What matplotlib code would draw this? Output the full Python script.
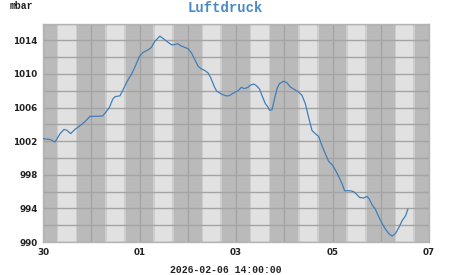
import matplotlib
matplotlib.use("Agg")
import matplotlib.pyplot as plt
import numpy as np

# hours since 2026-01-30 00:00
hours = [0.0, 3.5, 6.0, 8.5, 10.5, 11.8, 13.8, 15.9, 17.6, 19.3, 21.8, 23.4, 25.9, 29.7,
         31.4, 33.0, 34.7, 35.9, 38.3, 39.7, 41.7, 44.2, 45.8, 48.0, 49.8, 52.3, 53.9,
         55.6, 58.1, 59.8, 62.3, 63.9, 65.2, 66.9, 68.6, 70.6, 72.2, 73.9, 75.5, 77.2,
         78.8, 80.5, 82.2, 83.5, 85.2, 86.3, 88.8, 90.8, 92.5, 94.6, 97.3, 98.6, 100.2,
         101.9, 103.1, 104.7, 105.9, 107.6, 108.9, 110.6, 111.9, 112.7, 113.9, 115.2,
         116.4, 117.7, 119.7, 121.4, 123.0, 125.1, 127.1, 128.8, 130.5, 132.1, 133.8,
         135.5, 137.1, 138.4, 140.1, 142.1, 143.8, 145.4, 147.1, 148.8, 150.0, 152.9,
         154.5, 156.2, 157.5, 159.5, 161.2, 162.3, 163.7, 165.3, 167.0, 168.7, 170.3,
         172.3, 173.7, 175.3, 177.0, 178.6, 180.3, 181.5]
pressure = [1002.3, 1002.2, 1001.9, 1002.9, 1003.4, 1003.3, 1002.9, 1003.4, 1003.7, 1004.0,
            1004.55, 1004.95, 1004.95, 1005.0, 1005.5, 1006.0, 1007.0, 1007.3, 1007.4,
            1008.05, 1009.05, 1010.05, 1010.85, 1012.1, 1012.56, 1012.87, 1013.15, 1013.87,
            1014.5, 1014.2, 1013.75, 1013.47, 1013.47, 1013.6, 1013.35, 1013.15, 1013.0,
            1012.48, 1011.7, 1010.9, 1010.6, 1010.4, 1010.1, 1009.5, 1008.5, 1007.97,
            1007.6, 1007.4, 1007.4, 1007.7, 1008.05, 1008.4, 1008.25, 1008.4, 1008.65,
            1008.8, 1008.65, 1008.25, 1007.45, 1006.45, 1006.06, 1005.67, 1005.75, 1007.06,
            1008.26, 1008.86, 1009.13, 1008.93, 1008.45, 1008.14, 1007.85, 1007.45, 1006.45,
            1004.86, 1003.27, 1002.88, 1002.56, 1001.69, 1000.68, 999.6, 999.2, 998.58,
            997.8, 996.9, 996.1, 996.1, 995.99, 995.63, 995.3, 995.24, 995.43, 995.1,
            994.43, 993.92, 993.0, 992.2, 991.53, 990.93, 990.7, 991.0, 991.72, 992.52,
            993.1, 993.9]

x_tick_labels = ["30", "01", "03", "05", "07"]
y_ticks = [990, 994, 998, 1002, 1006, 1010, 1014]
title = "Luftdruck"
unit = "mbar"
timestamp = "2026-02-06 14:00:00"

n_days = 8
dark = "#bababa"
mid = "#cdcdcd"
light = "#e1e1e1"
grid_c = "#a4a4a4"

fig = plt.figure(figsize=(4.51, 2.75), dpi=100)
ax = fig.add_axes([43/451, 1-242/275, (429-43)/451, (242-23.5)/275])
ax.set_xlim(0, n_days*24)
ax.set_ylim(990, 1016)
ax.set_facecolor(dark)

for d in range(n_days):
    b = d*24
    ax.axvspan(b+6.9, b+7.7, color=mid, lw=0, zorder=0)
    ax.axvspan(b+7.7, b+16.2, color=light, lw=0, zorder=0)
    ax.axvspan(b+16.2, b+17.1, color=mid, lw=0, zorder=0)

ax.set_xticks(np.arange(0, n_days*24+1, 24), minor=True)
ax.set_xticks(np.arange(0, n_days*24+1, 48))
ax.set_xticklabels(x_tick_labels)
ax.set_yticks(np.arange(990, 1017, 2), minor=True)
ax.set_yticks(y_ticks)
ax.set_yticklabels([str(v) for v in y_ticks])
ax.grid(True, which="both", color=grid_c, lw=1.0, zorder=1)
ax.set_axisbelow(True)
ax.tick_params(which="both", length=0, pad=4, labelsize=6.3, labelcolor="#222222")
for lab in ax.get_xticklabels() + ax.get_yticklabels():
    lab.set_fontweight("bold")
    lab.set_family("DejaVu Sans")
for s in ax.spines.values():
    s.set_color("#b4b4b4")
    s.set_linewidth(1.0)

ax.plot(hours, pressure, color="#3f7fba", lw=0.9, zorder=3)

fig.text(225/451, 1-8/275, title, ha="center", va="center", family="Liberation Mono",
         fontweight="bold", fontsize=10, color="#4a8ac4")
fig.text(10/451, 1-6/275, unit, ha="left", va="center", family="Liberation Mono",
         fontweight="bold", fontsize=7, color="#222222")
fig.text(226/451, 1-270/275, timestamp, ha="center", va="center", family="Liberation Mono",
         fontweight="bold", fontsize=7, color="#222222")

fig.savefig("out.png", dpi=100)
